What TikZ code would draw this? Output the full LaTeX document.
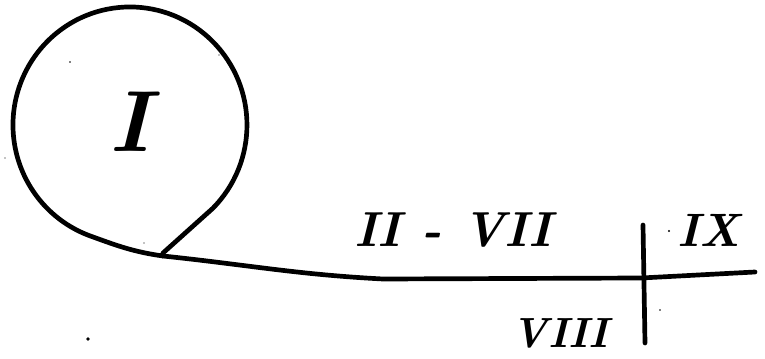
\documentclass[tikz,border=0pt]{standalone}
\usetikzlibrary{positioning}

\begin{document}
\begin{tikzpicture}[x=0.03cm, y=0.03cm,
    pen/.style={line width=4pt, line cap=round, line join=round},
    roman/.style={inner sep=0pt, font=\bfseries\itshape\fontsize{#1}{#1}\selectfont},
    speck/.style={circle, fill=black, inner sep=0pt, minimum size=#1}]
      \useasboundingbox (0,0) rectangle (765,358);

      \coordinate (join) at (163,105);
      \coordinate (foot) at (163,102);
      \coordinate (kink) at (383,79);
      \coordinate (cross) at (641,80);
      \coordinate (tip) at (755,86);
      \coordinate (ticktop) at (643,133);
      \coordinate (tickbot) at (645,15);

      \draw[pen] (join) -- (212.7,149.6)
            arc[start angle=-45, end angle=250, x radius=117, y radius=118]
            to[out=-20,in=172] (foot);
      \draw[pen] (foot) to[out=-6,in=177] (kink)
            -- (cross) to[out=3,in=183] (tip);
      \draw[pen] (ticktop) -- (tickbot);

      \node[roman=74] (one) at (130,236) {I};
      \node[roman=42] (twoseven) at (453,128) {II - VII};
      \node[roman=40] (nine) at (709,128) {IX};
      \node[roman=36] (eight) at (560,25) {VIII};

      \foreach \x/\y/\s in {70/296/1.4pt, 219/303/1pt, 5/200/1.2pt, 144/115/0.9pt,
                            669/127/1.8pt, 660/48/1.6pt, 88/19/3.2pt}
        \node[speck=\s] at (\x,\y) {};
\end{tikzpicture}
\end{document}
